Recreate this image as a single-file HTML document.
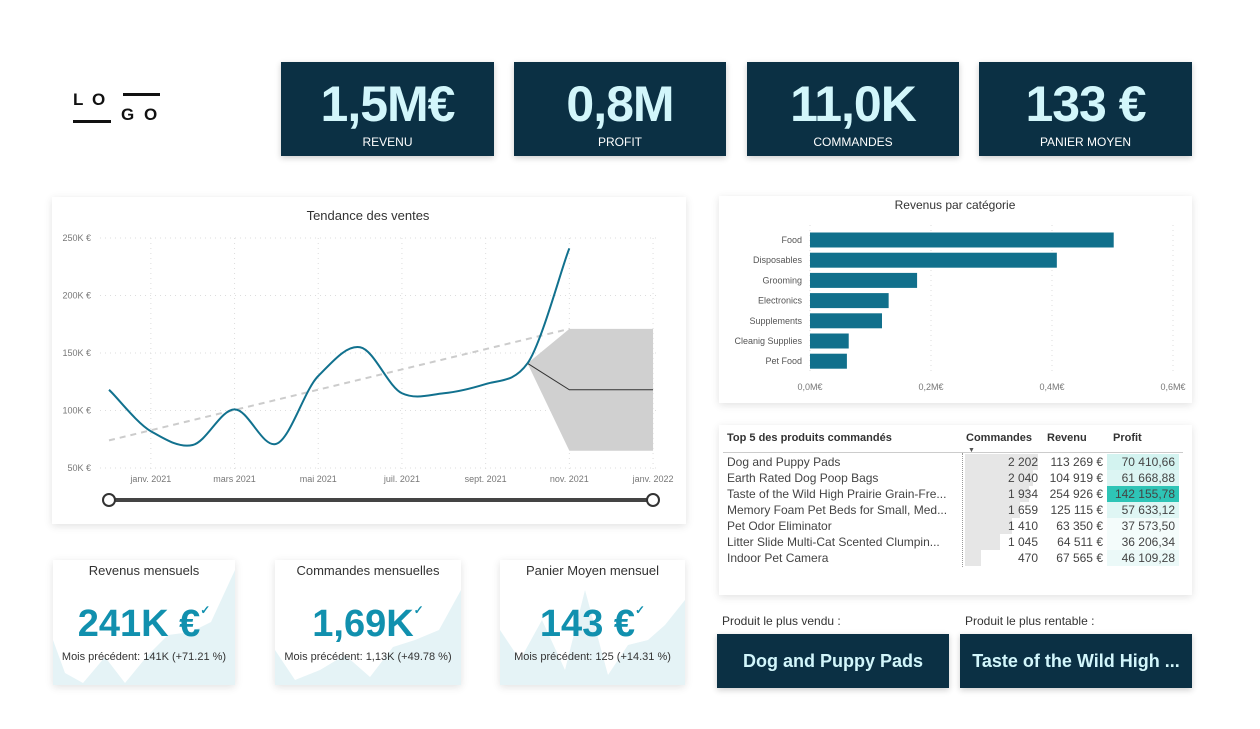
<!DOCTYPE html>
<html><head><meta charset="utf-8"><style>
body{margin:0;width:1260px;height:729px;background:#fff;font-family:"Liberation Sans",sans-serif;position:relative;overflow:hidden}
.abs{position:absolute}
.card{position:absolute;background:#fff;box-shadow:0 2px 8px rgba(0,0,0,0.12)}
.kpi{position:absolute;background:#0b3044;color:#d2f6fb;text-align:center;box-shadow:0 2px 6px rgba(0,0,0,0.2)}
.kpi .v{font-size:50px;font-weight:bold;margin-top:16px;line-height:52px;letter-spacing:-1px}
.kpi .l{font-size:12px;color:#fff;margin-top:5px}
.small{font-size:13px;color:#333}
.lg{position:absolute;font-size:17px;font-weight:bold;color:#111;line-height:14px}
</style></head><body>
<div class="abs" style="left:0;top:0;width:170px;height:130px">
<div class="lg" style="left:73px;top:93px">L</div>
<div class="lg" style="left:92px;top:93px">O</div>
<div class="lg" style="left:121px;top:108px">G</div>
<div class="lg" style="left:144px;top:108px">O</div>
<div class="abs" style="left:73px;top:120px;width:38px;height:3px;background:#111"></div>
<div class="abs" style="left:123px;top:93px;width:37px;height:3px;background:#111"></div>
</div>
<div class="kpi" style="left:281px;top:62px;width:213px;height:94px"><div class="v">1,5M€</div><div class="l">REVENU</div></div>
<div class="kpi" style="left:514px;top:62px;width:212px;height:94px"><div class="v">0,8M</div><div class="l">PROFIT</div></div>
<div class="kpi" style="left:747px;top:62px;width:212px;height:94px"><div class="v">11,0K</div><div class="l">COMMANDES</div></div>
<div class="kpi" style="left:979px;top:62px;width:213px;height:94px"><div class="v">133 €</div><div class="l">PANIER MOYEN</div></div>

<div class="card" style="left:52px;top:197px;width:634px;height:327px"></div>
<div class="card" style="left:719px;top:196px;width:473px;height:207px"></div>
<div class="card" style="left:719px;top:425px;width:473px;height:170px"></div>

<svg id="line" class="abs" style="left:0;top:0" width="1260" height="729"></svg>

<div class="abs" style="left:727px;top:432px;font-size:11px;font-weight:bold;color:#333">Top 5 des produits commandés</div>
<div class="abs" style="left:966px;top:432px;font-size:11px;font-weight:bold;color:#333">Commandes</div>
<div class="abs" style="left:968px;top:447px;font-size:7px;color:#555">▼</div>
<div class="abs" style="left:1047px;top:432px;font-size:11px;font-weight:bold;color:#333">Revenu</div>
<div class="abs" style="left:1113px;top:432px;font-size:11px;font-weight:bold;color:#333">Profit</div>
<div class="abs" style="left:723px;top:452px;width:460px;height:1px;background:#ccc"></div>
<div class="abs" style="left:962px;top:453px;width:0;height:114px;border-left:1px dotted #999"></div>
<div id="rows"></div>

<div class="card" style="left:53px;top:560px;width:182px;height:125px;overflow:hidden">
<svg class="abs" style="left:0;top:0" width="182" height="125"><polygon fill="#e5f3f6" points="0,125 0,80 12,113 30,123 52,97 72,123 95,95 115,75 138,72 158,62 182,10 182,125"/></svg></div>
<div class="card" style="left:275px;top:560px;width:186px;height:125px;overflow:hidden">
<svg class="abs" style="left:0;top:0" width="186" height="125"><polygon fill="#e5f3f6" points="0,125 0,90 20,120 45,110 70,95 95,117 118,87 140,80 164,70 186,30 186,125"/></svg></div>
<div class="card" style="left:500px;top:560px;width:185px;height:125px;overflow:hidden">
<svg class="abs" style="left:0;top:0" width="185" height="125"><polygon fill="#e5f3f6" points="0,125 0,70 20,100 42,60 65,110 85,30 108,115 128,85 148,80 165,65 185,40 185,125"/></svg></div>

<div class="abs small" style="left:53px;top:563px;width:182px;text-align:center">Revenus mensuels</div>
<div class="abs" style="left:53px;top:603px;width:182px;text-align:center;font-size:38px;font-weight:bold;color:#1190ae">241K €<span style="font-size:12px;vertical-align:top">✓</span></div>
<div class="abs" style="left:53px;top:651px;width:182px;text-align:center;font-size:11px;color:#333">Mois précédent: 141K (+71.21 %)</div>
<div class="abs small" style="left:275px;top:563px;width:186px;text-align:center">Commandes mensuelles</div>
<div class="abs" style="left:275px;top:603px;width:186px;text-align:center;font-size:38px;font-weight:bold;color:#1190ae">1,69K<span style="font-size:12px;vertical-align:top">✓</span></div>
<div class="abs" style="left:275px;top:651px;width:186px;text-align:center;font-size:11px;color:#333">Mois précédent: 1,13K (+49.78 %)</div>
<div class="abs small" style="left:500px;top:563px;width:185px;text-align:center">Panier Moyen mensuel</div>
<div class="abs" style="left:500px;top:603px;width:185px;text-align:center;font-size:38px;font-weight:bold;color:#1190ae">143 €<span style="font-size:12px;vertical-align:top">✓</span></div>
<div class="abs" style="left:500px;top:651px;width:185px;text-align:center;font-size:11px;color:#333">Mois précédent: 125 (+14.31 %)</div>

<div class="abs small" style="left:722px;top:614px;font-size:12px">Produit le plus vendu :</div>
<div class="abs small" style="left:965px;top:614px;font-size:12px">Produit le plus rentable :</div>
<div class="kpi" style="left:717px;top:634px;width:232px;height:54px;font-size:18px;font-weight:bold;line-height:54px">Dog and Puppy Pads</div>
<div class="kpi" style="left:960px;top:634px;width:232px;height:54px;font-size:18px;font-weight:bold;line-height:54px">Taste of the Wild High ...</div>

<script>
const months=["déc.","janv.","févr.","mars","avr.","mai","juin","juil.","août","sept.","oct.","nov."];
const sales=[118,82,70,101,71,130,155,115,115,123,141,241];
const fcIdx=[10,11,13];
const fcVal=[141,118,118];
const fcLow=[141,65,65];
const fcHigh=[141,171,171];
const trendStart=74, trendEnd=171;
const yTicks=[50,100,150,200,250];
const xTickIdx=[1,3,5,7,9,11,13];
const xTickLabels=["janv. 2021","mars 2021","mai 2021","juil. 2021","sept. 2021","nov. 2021","janv. 2022"];
const cats=["Food","Disposables","Grooming","Electronics","Supplements","Cleanig Supplies","Pet Food"];
const catVals=[0.502,0.408,0.177,0.13,0.119,0.064,0.061];
const barTicks=[0,0.2,0.4,0.6];
const barTickLabels=["0,0M€","0,2M€","0,4M€","0,6M€"];
const prodNames=["Dog and Puppy Pads","Earth Rated Dog Poop Bags","Taste of the Wild High Prairie Grain-Fre...","Memory Foam Pet Beds for Small, Med...","Pet Odor Eliminator","Litter Slide Multi-Cat Scented Clumpin...","Indoor Pet Camera"];
const prodOrders=[2202,2040,1934,1659,1410,1045,470];
const prodOrdersTxt=["2 202","2 040","1 934","1 659","1 410","1 045","470"];
const prodRevenue=["113 269 €","104 919 €","254 926 €","125 115 €","63 350 €","64 511 €","67 565 €"];
const prodProfit=[70410.66,61668.88,142155.78,57633.12,37573.50,36206.34,46109.28];
const prodProfitTxt=["70 410,66","61 668,88","142 155,78","57 633,12","37 573,50","36 206,34","46 109,28"];

const NS="http://www.w3.org/2000/svg";
const svg=document.getElementById('line');
function el(t,a,txt){const e=document.createElementNS(NS,t);for(const k in a)e.setAttribute(k,a[k]);if(txt!==undefined)e.textContent=txt;svg.appendChild(e);return e;}
const X=i=>109+i*41.85;
const Y=v=>468-(v-50)*1.15;
let t=el('text',{x:368,y:220,'text-anchor':'middle','font-size':13,fill:'#333'},'Tendance des ventes');


yTicks.forEach(v=>{
  const g=el('line',{x1:100,x2:660,y1:Y(v),y2:Y(v),stroke:'#ddd','stroke-dasharray':'1 4'});
  
  
  const l=el('text',{x:91,y:Y(v)+3,'text-anchor':'end','font-size':9,fill:'#777'},v+'K €');
  
  
});
xTickIdx.forEach((ix,k)=>{
  const g=el('line',{x1:X(ix),x2:X(ix),y1:238,y2:470,stroke:'#ddd','stroke-dasharray':'1 4'});
  
  
  const l=el('text',{x:X(ix),y:482,'text-anchor':'middle','font-size':9,fill:'#777'},xTickLabels[k]);
  
  
});
const bandPts=fcIdx.map((ix,k)=>X(ix)+','+Y(fcHigh[k])).concat(fcIdx.slice().reverse().map((ix,k)=>X(ix)+','+Y(fcLow[fcIdx.length-1-k])));
const band=el('polygon',{points:bandPts.join(' '),fill:'#d0d0d0'});


const fl=el('polyline',{points:fcIdx.map((ix,k)=>X(ix)+','+Y(fcVal[k])).join(' '),fill:'none',stroke:'#333','stroke-width':1});


const tr=el('line',{x1:X(0),y1:Y(trendStart),x2:X(11),y2:Y(trendEnd),stroke:'#ccc','stroke-width':2,'stroke-dasharray':'6 5'});


const P=sales.map((v,i)=>[X(i),Y(v)]);
let d='M'+P[0][0]+','+P[0][1];
for(let i=0;i<P.length-1;i++){const p0=P[Math.max(0,i-1)],p1=P[i],p2=P[i+1],p3=P[Math.min(P.length-1,i+2)];
 d+=` C${p1[0]+(p2[0]-p0[0])/6},${p1[1]+(p2[1]-p0[1])/7} ${p2[0]-(p3[0]-p1[0])/6},${p2[1]-(p3[1]-p1[1])/7} ${p2[0]},${p2[1]}`;}
const sl=el('path',{d:d,fill:'none',stroke:'#11718e','stroke-width':2});


const sb=el('line',{x1:109,x2:653,y1:500,y2:500,stroke:'#444','stroke-width':4});


[109,653].forEach(x=>{const c=el('circle',{cx:x,cy:500,r:6,fill:'#fff',stroke:'#333','stroke-width':2});

});

const BX=v=>810+v*605;
const bt=el('text',{x:955,y:209,'text-anchor':'middle','font-size':12,fill:'#333'},'Revenus par catégorie');


barTicks.forEach((v,k)=>{
  const g=el('line',{x1:BX(v),x2:BX(v),y1:225,y2:372,stroke:'#ddd','stroke-dasharray':'1 4'});
  
  
  const l=el('text',{x:BX(v),y:390,'text-anchor':'middle','font-size':9,fill:'#777'},barTickLabels[k]);
  
  
});
cats.forEach((c,i)=>{
  const cy=240+i*20.2;
  const r=el('rect',{x:BX(0),y:cy-7.5,width:BX(catVals[i])-BX(0),height:15,fill:'#11708c'});
  
  
  const l=el('text',{x:802,y:cy+3,'text-anchor':'end','font-size':9,fill:'#555'},c);
  
  
});

const rows=document.getElementById('rows');
const maxO=Math.max(...prodOrders),maxP=Math.max(...prodProfit),minP=Math.min(...prodProfit);
prodNames.forEach((n,i)=>{
  const top=454+i*16;
  const r=document.createElement('div');
  r.className='abs';r.style.cssText=`left:0;top:${top}px;width:1260px;height:16px;font-size:12px;color:#444;line-height:16px`;
  
  
  const f=(prodProfit[i]-minP)/(maxP-minP);
  const col=f>0.9?'#2ec4b6':`rgba(46,196,182,${0.05+f*0.5})`;
  r.innerHTML=`<div class="abs" style="left:727px;width:232px;white-space:nowrap;overflow:hidden">${n}</div>
  <div class="abs" style="left:965px;width:${prodOrders[i]/maxO*73}px;height:16px;background:#e6e6e6"></div>
  <div class="abs" style="left:965px;width:73px;text-align:right">${prodOrdersTxt[i]}</div>
  <div class="abs" style="left:1040px;width:63px;text-align:right">${prodRevenue[i]}</div>
  <div class="abs" style="left:1107px;width:72px;height:16px;background:${col};text-align:right;padding-right:4px;box-sizing:border-box">${prodProfitTxt[i]}</div>`;
  rows.appendChild(r);
});
</script>
</body></html>
